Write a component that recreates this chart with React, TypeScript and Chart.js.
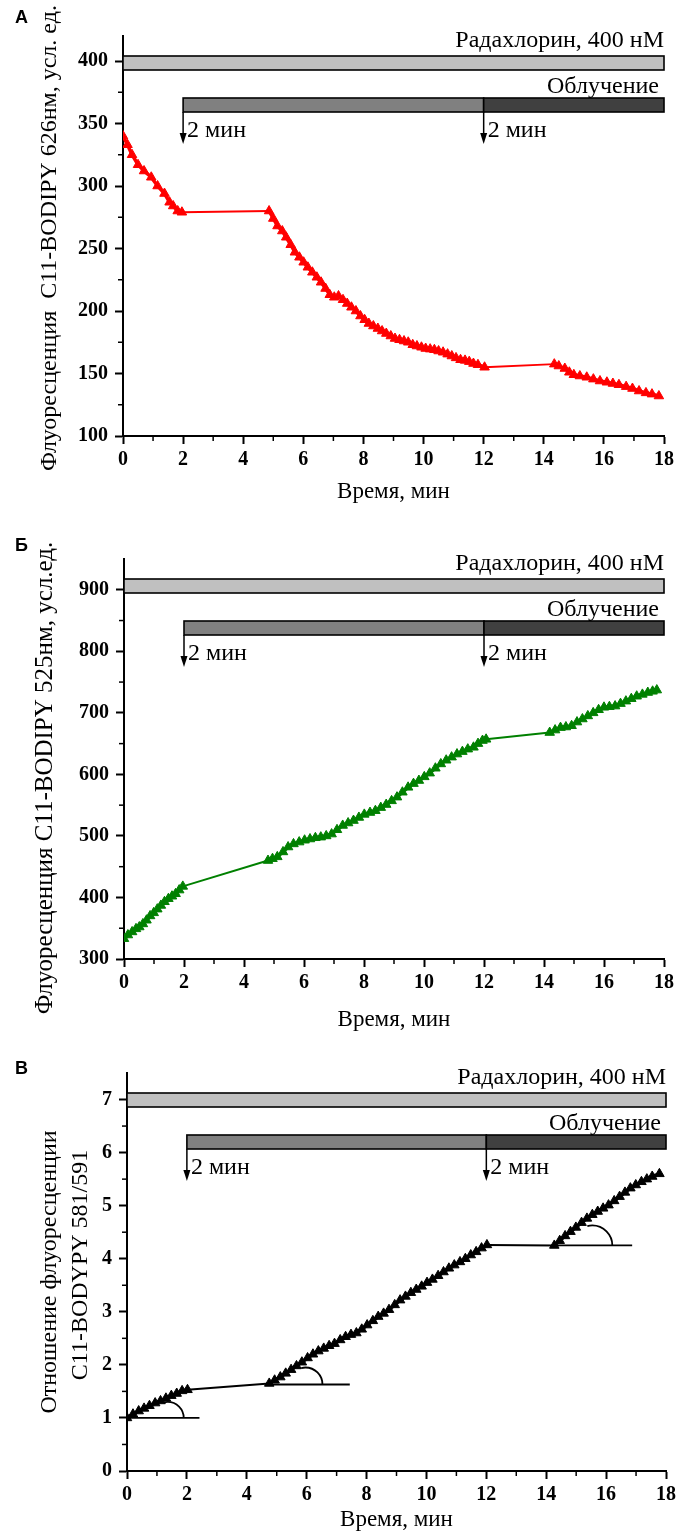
import React, { useEffect, useRef } from "react";
import { Chart, registerables } from "chart.js";

Chart.register(...registerables);

const SERIF = "'Liberation Serif', 'Times New Roman', serif";

// ---------------- Data ----------------
// Panel A: C11-BODIPY 626 nm fluorescence
const timeA = [0, 0.15, 0.3, 0.5, 0.7, 0.94, 1.15, 1.38, 1.55, 1.67, 1.82, 1.96,
  4.86, 5.0, 5.14, 5.3, 5.43, 5.58, 5.72, 5.87, 6.01, 6.15, 6.3, 6.45, 6.59, 6.74, 6.88, 7.03, 7.17, 7.32, 7.46, 7.6, 7.75, 7.9,
  8.04, 8.18, 8.33, 8.48, 8.62, 8.76, 8.91, 9.05, 9.2, 9.35, 9.49, 9.64, 9.78, 9.93, 10.07, 10.22, 10.36, 10.5, 10.65, 10.8,
  10.94, 11.08, 11.23, 11.38, 11.52, 11.66, 11.81, 12.03,
  14.35, 14.5, 14.7, 14.85, 15.0, 15.2, 15.43, 15.65, 15.87, 16.1, 16.3, 16.5, 16.74, 16.95, 17.17, 17.4, 17.6, 17.83];
const fluorA = [340, 333, 325, 317, 312, 307, 300, 294, 287, 284, 280, 279,
  280, 274, 268, 264, 259, 253, 247, 243, 239, 235, 231, 227, 223, 218, 213, 211, 212, 209, 206, 203, 200, 196,
  193, 190, 188, 186, 184, 182, 180, 178, 177, 176, 175, 173, 172, 171, 170, 169.5, 169, 168, 167, 165.5,
  164, 162.5, 161, 160.5, 159.5, 158, 157, 155,
  157.5, 156, 154, 151, 149, 148, 147, 145.5, 144, 143, 142, 141, 139.5, 138, 136, 134.5, 133.5, 132];

// Panel B: C11-BODIPY 525 nm fluorescence
const timeB = [0, 0.13, 0.27, 0.4, 0.51, 0.63, 0.75, 0.87, 0.99, 1.11, 1.23, 1.35, 1.48, 1.6, 1.72, 1.84, 1.96,
  4.8, 4.95, 5.11, 5.3, 5.47, 5.65, 5.84, 6.02, 6.2, 6.38, 6.56, 6.74, 6.92, 7.1, 7.29, 7.47, 7.65, 7.83, 8.01, 8.2, 8.38,
  8.56, 8.74, 8.92, 9.1, 9.28, 9.47, 9.65, 9.83, 10.01, 10.19, 10.38, 10.56, 10.74, 10.92, 11.1, 11.28, 11.46, 11.65,
  11.8, 11.95, 12.07,
  14.19, 14.37, 14.55, 14.73, 14.92, 15.1, 15.28, 15.46, 15.64, 15.82, 16.0, 16.18, 16.37, 16.55, 16.73, 16.91, 17.09,
  17.28, 17.46, 17.62, 17.76];
const fluorB = [333, 339, 344, 349, 352, 357, 363, 370, 375, 381, 387, 393, 398, 402, 406, 412, 418,
  460, 463, 466, 474, 482, 487, 490, 493, 495, 497, 498, 500, 503, 510, 517, 521, 525, 530, 535, 538, 541,
  546, 551, 557, 563, 571, 579, 585, 590, 596, 602, 610, 617, 623, 628, 633, 637, 641, 644,
  650, 655, 657,
  668, 672, 676, 677, 679, 685, 690, 695, 700, 705, 709, 710, 711, 715, 719, 723, 727,
  730, 733, 735, 737];

// Panel C: ratio 581/591
const timeC = [0, 0.2, 0.39, 0.57, 0.75, 0.94, 1.12, 1.3, 1.48, 1.66, 1.84, 2.02,
  4.75, 4.93, 5.12, 5.3, 5.48, 5.66, 5.84, 6.03, 6.21, 6.39, 6.57, 6.75, 6.93, 7.12, 7.3, 7.48, 7.66, 7.84, 8.02, 8.21,
  8.39, 8.57, 8.75, 8.94, 9.12, 9.3, 9.48, 9.66, 9.84, 10.02, 10.2, 10.39, 10.57, 10.75, 10.93, 11.12, 11.3, 11.48,
  11.66, 11.84, 12.02,
  14.27, 14.45, 14.63, 14.81, 14.99, 15.18, 15.36, 15.54, 15.72, 15.9, 16.08, 16.27, 16.45, 16.63, 16.81, 16.99,
  17.18, 17.36, 17.54, 17.78];
const ratioC = [1.0, 1.07, 1.13, 1.18, 1.23, 1.28, 1.32, 1.37, 1.42, 1.46, 1.51, 1.53,
  1.65, 1.71, 1.77, 1.84, 1.91, 1.98, 2.05, 2.13, 2.2, 2.26, 2.31, 2.36, 2.4, 2.47, 2.53, 2.57, 2.6, 2.67, 2.75, 2.83,
  2.91, 2.97, 3.04, 3.13, 3.22, 3.29, 3.36, 3.42, 3.48, 3.55, 3.61, 3.68, 3.75, 3.82, 3.88, 3.94, 4.0, 4.07,
  4.13, 4.2, 4.26,
  4.25, 4.34, 4.43, 4.51, 4.59, 4.68, 4.76, 4.83, 4.89, 4.95, 5.01, 5.09, 5.17, 5.25, 5.33, 5.39,
  5.45, 5.5, 5.55, 5.6];

// Tangent baselines in panel C: [start time, end time, level, arc-centre time]
const tangentStartC = [0, 4.75, 14.27];
const tangentEndC = [2.42, 7.44, 16.87];
const tangentLevelC = [1.0, 1.63, 4.25];
const tangentArcC = [1.36, 5.96, 15.54];

// Event timeline (minutes)
const drugSpan = [0, 18];
const irradiationSpan = [2, 12, 18];
const arrowTimes = [2, 12];

const drugLabel = "Радахлорин, 400 нМ";
const irradiationLabel = "Облучение";
const arrowLabel = "2 мин";
const xTitle = "Время, мин";

type Panel = {
  letter: string;
  canvasTop: number;
  canvasHeight: number;
  left: number;
  right: number;
  top: number;
  bottom: number;
  yMin: number;
  yMax: number;
  yStep: number;
  yMinorStep: number;
  xs: number[];
  ys: number[];
  color: string;
  yTitle: string[];
  yTitleX: number[];
  yTitleY: number[];
  yTitleSize: number;
  xTitlePad: number;
  arcRadii?: number[];
  tangents?: boolean;
};

const panels: Panel[] = [
  {
    letter: "А", canvasTop: 0, canvasHeight: 510,
    left: 123, right: 664, top: 36, bottom: 436,
    yMin: 100, yMax: 420, yStep: 50, yMinorStep: 25,
    xs: timeA, ys: fluorA, color: "#ff0000",
    yTitle: ["Флуоресценция  C11-BODIPY 626нм, усл. ед."], yTitleX: [50], yTitleY: [238], yTitleSize: 24,
    xTitlePad: 4,
  },
  {
    letter: "Б", canvasTop: 520, canvasHeight: 520,
    left: 124, right: 664, top: 559, bottom: 959,
    yMin: 300, yMax: 950, yStep: 100, yMinorStep: 50,
    xs: timeB, ys: fluorB, color: "#008000",
    yTitle: ["Флуоресценция C11-BODIPY 525нм, усл.ед."], yTitleX: [45], yTitleY: [778], yTitleSize: 25,
    xTitlePad: 6,
  },
  {
    letter: "В", canvasTop: 1045, canvasHeight: 490,
    left: 127, right: 666, top: 1073, bottom: 1471,
    yMin: 0, yMax: 7.5, yStep: 1, yMinorStep: 0.5,
    xs: timeC, ys: ratioC, color: "#000000",
    yTitle: ["Отношение флуоресценции", "C11-BODYPY 581/591"], yTitleX: [50, 81], yTitleY: [1272, 1265], yTitleSize: 24,
    xTitlePad: 1,
    arcRadii: [16, 17, 20],
    tangents: true,
  },
];

const decorPlugin = {
  id: "panelDecor",
  afterDraw(chart: any) {
    const p: Panel = chart.options.plugins.panelDecor.panel;
    const { ctx, chartArea } = chart;
    const x = chart.scales.x;
    const y = chart.scales.y;
    const top = chartArea.top;
    ctx.save();

    // minor ticks
    ctx.strokeStyle = "#000";
    ctx.lineWidth = 1.5;
    for (let v = 1; v < 18; v += 2) {
      const px = x.getPixelForValue(v);
      ctx.beginPath();
      ctx.moveTo(px, chartArea.bottom);
      ctx.lineTo(px, chartArea.bottom + 5);
      ctx.stroke();
    }
    for (let v = p.yMin + p.yMinorStep; v < p.yMax; v += p.yStep) {
      const py = y.getPixelForValue(v);
      ctx.beginPath();
      ctx.moveTo(chartArea.left, py);
      ctx.lineTo(chartArea.left - 5, py);
      ctx.stroke();
    }

    // drug bar
    const x0 = x.getPixelForValue(drugSpan[0]);
    const x1 = x.getPixelForValue(drugSpan[1]);
    ctx.lineWidth = 1.6;
    ctx.fillStyle = "#c0c0c0";
    ctx.fillRect(x0, top + 20, x1 - x0, 14);
    ctx.strokeRect(x0, top + 20, x1 - x0, 14);

    // irradiation bar
    const i0 = x.getPixelForValue(irradiationSpan[0]);
    const i1 = x.getPixelForValue(irradiationSpan[1]);
    const i2 = x.getPixelForValue(irradiationSpan[2]);
    ctx.fillStyle = "#808080";
    ctx.fillRect(i0, top + 62, i1 - i0, 14);
    ctx.strokeRect(i0, top + 62, i1 - i0, 14);
    ctx.fillStyle = "#404040";
    ctx.fillRect(i1, top + 62, i2 - i1, 14);
    ctx.strokeRect(i1, top + 62, i2 - i1, 14);

    // labels
    ctx.fillStyle = "#000";
    ctx.font = `24px ${SERIF}`;
    ctx.textBaseline = "middle";
    ctx.textAlign = "right";
    ctx.fillText(drugLabel, x1, top + 5);
    ctx.fillText(irradiationLabel, x1 - 5, top + 51);

    // arrows
    ctx.textAlign = "left";
    for (const t of arrowTimes) {
      const ax = x.getPixelForValue(t);
      ctx.lineWidth = 1.5;
      ctx.beginPath();
      ctx.moveTo(ax, top + 76);
      ctx.lineTo(ax, top + 98);
      ctx.stroke();
      ctx.beginPath();
      ctx.moveTo(ax - 3.5, top + 97);
      ctx.lineTo(ax + 3.5, top + 97);
      ctx.lineTo(ax, top + 108);
      ctx.closePath();
      ctx.fill();
      ctx.fillText(arrowLabel, ax + 4, top + 95);
    }

    // tangents and angle arcs (panel C)
    if (p.tangents && p.arcRadii) {
      ctx.lineWidth = 1.8;
      for (let k = 0; k < tangentStartC.length; k++) {
        const lx0 = x.getPixelForValue(tangentStartC[k]);
        const lx1 = x.getPixelForValue(tangentEndC[k]);
        const ly = y.getPixelForValue(tangentLevelC[k]);
        ctx.beginPath();
        ctx.moveTo(lx0, ly);
        ctx.lineTo(lx1, ly);
        ctx.stroke();
        const cx = x.getPixelForValue(tangentArcC[k]);
        ctx.beginPath();
        ctx.arc(cx, ly, p.arcRadii[k], 0, -Math.PI * 0.58, true);
        ctx.stroke();
      }
    }

    // y-axis title
    ctx.font = `${p.yTitleSize}px ${SERIF}`;
    ctx.textAlign = "center";
    ctx.textBaseline = "middle";
    p.yTitle.forEach((line, i) => {
      ctx.save();
      ctx.translate(p.yTitleX[i], p.yTitleY[i] - p.canvasTop);
      ctx.rotate(-Math.PI / 2);
      ctx.fillText(line, 0, 0);
      ctx.restore();
    });

    ctx.restore();
  },
};

function PanelChart({ panel }: { panel: Panel }) {
  const ref = useRef<HTMLCanvasElement | null>(null);
  useEffect(() => {
    if (!ref.current) return;
    const p = panel;
    const tickFont = { family: SERIF, size: 20, weight: "bold" as const };
    const chart = new Chart(ref.current, {
      type: "line",
      data: {
        datasets: [
          {
            data: p.xs.map((t, i) => ({ x: t, y: p.ys[i] })),
            borderColor: p.color,
            backgroundColor: p.color,
            borderWidth: 3.5,
            segment: {
              borderWidth: (c: any) => (c.p1.parsed.x - c.p0.parsed.x > 1 ? 2 : 3.5),
            },
            pointStyle: "triangle",
            pointRadius: 5.5,
            pointBorderWidth: 1,
            pointBorderColor: p.color,
            pointBackgroundColor: p.color,
            tension: 0,
          },
        ],
      },
      options: {
        animation: false,
        responsive: false,
        events: [],
        layout: {
          padding: {
            left: 0,
            right: 682 - p.right,
            top: p.top - p.canvasTop,
            bottom: 0,
          },
        },
        plugins: {
          legend: { display: false },
          tooltip: { enabled: false },
          panelDecor: { panel: p },
        } as any,
        scales: {
          x: {
            type: "linear",
            min: 0,
            max: 18,
            afterFit: (s: any) => {
              s.height = p.canvasTop + p.canvasHeight - p.bottom;
            },
            ticks: {
              stepSize: 2,
              autoSkip: false,
              maxRotation: 0,
              padding: 4,
              color: "#000",
              font: tickFont,
            },
            grid: {
              drawOnChartArea: false,
              drawTicks: true,
              tickLength: 8,
              tickWidth: 2,
              tickColor: "#000",
              color: "#000",
            },
            border: { display: true, color: "#000", width: 2 },
            title: {
              display: true,
              text: xTitle,
              color: "#000",
              font: { family: SERIF, size: 23 },
              padding: { top: 0, bottom: p.xTitlePad },
            },
          },
          y: {
            type: "linear",
            min: p.yMin,
            max: p.yMax,
            afterFit: (s: any) => {
              s.width = p.left;
            },
            ticks: {
              stepSize: p.yStep,
              includeBounds: false,
              padding: 7,
              color: "#000",
              font: tickFont,
            },
            grid: {
              drawOnChartArea: false,
              drawTicks: true,
              tickLength: 8,
              tickWidth: 2,
              tickColor: "#000",
              color: "#000",
            },
            border: { display: true, color: "#000", width: 2 },
          },
        },
      },
      plugins: [decorPlugin],
    } as any);
    return () => chart.destroy();
  }, [panel]);
  return (
    <canvas
      ref={ref}
      width={682}
      height={panel.canvasHeight}
      style={{ position: "absolute", left: 0, top: panel.canvasTop, width: 682, height: panel.canvasHeight }}
    />
  );
}

const letterTops = [8, 536, 1059];

export default function App() {
  return (
    <div style={{ position: "absolute", left: 0, top: 0, width: 682, height: 1535, background: "#fff", overflow: "hidden" }}>
      {panels.map((p, i) => (
        <PanelChart key={i} panel={p} />
      ))}
      {panels.map((p, i) => (
        <div
          key={"l" + i}
          style={{
            position: "absolute",
            left: 15,
            top: letterTops[i],
            fontFamily: "'Liberation Sans', Arial, sans-serif",
            fontWeight: "bold",
            fontSize: 18,
            lineHeight: "18px",
            color: "#000",
          }}
        >
          {p.letter}
        </div>
      ))}
    </div>
  );
}
